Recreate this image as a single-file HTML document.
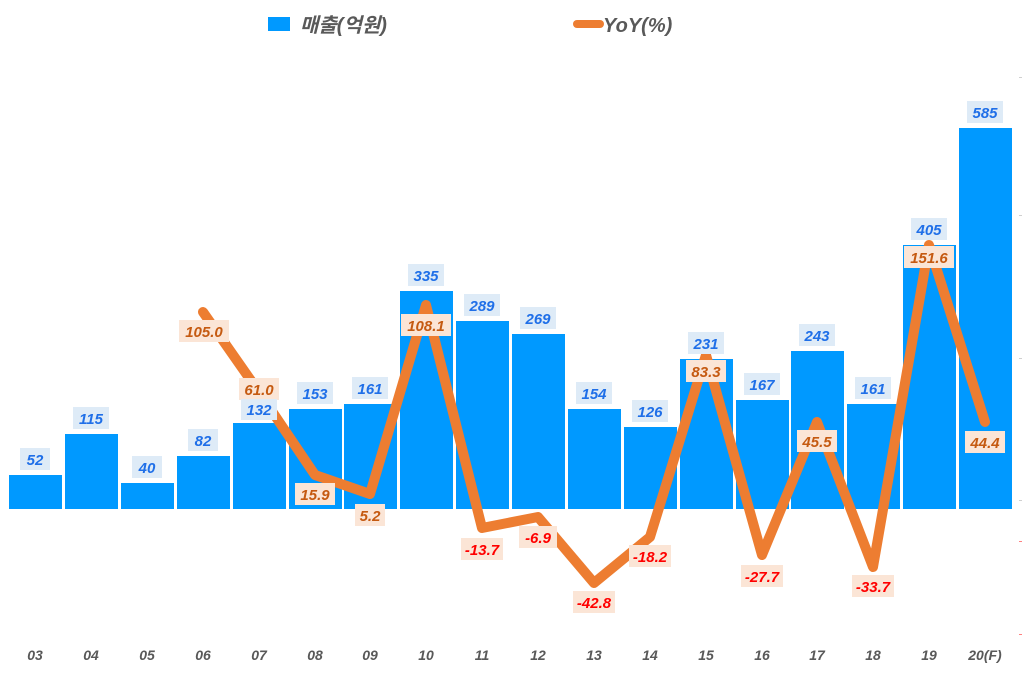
<!DOCTYPE html>
<html><head><meta charset="utf-8"><style>
html,body{margin:0;padding:0;background:#fff;}
svg text{font-family:"Liberation Sans","Noto Sans CJK KR",sans-serif;font-style:italic;font-weight:bold;}
.bl{font-size:15px;fill:#1f6fe8;text-anchor:middle;}
.yl{font-size:15px;fill:#c55a11;text-anchor:middle;}
.yn{font-size:15px;fill:#ff0000;text-anchor:middle;}
.xl{font-size:14px;fill:#595959;text-anchor:middle;}
</style></head><body>
<svg width="1024" height="685" xmlns="http://www.w3.org/2000/svg">
<rect width="1024" height="685" fill="#fff"/>
<rect x="268" y="17" width="22" height="14" fill="#0099ff"/>
<text x="300" y="32" style="font-size:20px" fill="#595959">매출(억원)</text>
<line x1="577" y1="24" x2="600" y2="24" stroke="#ed7d31" stroke-width="8" stroke-linecap="round"/>
<text x="603" y="32" style="font-size:20px" fill="#595959">YoY(%)</text>
<g fill="#d0d0d0">
<rect x="1019" y="77" width="3" height="1"/><rect x="1019" y="215" width="3" height="1"/><rect x="1019" y="358" width="3" height="1"/><rect x="1019" y="500" width="3" height="1"/>
</g>
<rect x="1019" y="541" width="3" height="1" fill="#ff8080"/><rect x="1019" y="634" width="3" height="1" fill="#ff8080"/>
<g fill="#0099ff">
<rect x="9" y="475" width="53" height="34"/>
<rect x="65" y="434" width="53" height="75"/>
<rect x="121" y="483" width="53" height="26"/>
<rect x="177" y="456" width="53" height="53"/>
<rect x="233" y="423" width="53" height="86"/>
<rect x="289" y="409" width="53" height="100"/>
<rect x="344" y="404" width="53" height="105"/>
<rect x="400" y="291" width="53" height="218"/>
<rect x="456" y="321" width="53" height="188"/>
<rect x="512" y="334" width="53" height="175"/>
<rect x="568" y="409" width="53" height="100"/>
<rect x="624" y="427" width="53" height="82"/>
<rect x="680" y="359" width="53" height="150"/>
<rect x="736" y="400" width="53" height="109"/>
<rect x="791" y="351" width="53" height="158"/>
<rect x="847" y="404" width="53" height="105"/>
<rect x="903" y="245" width="53" height="264"/>
<rect x="959" y="128" width="53" height="381"/>
</g>
<polyline fill="none" stroke="#ed7d31" stroke-width="10" stroke-linejoin="round" stroke-linecap="round"
 points="203,312 259,392 315,475 370,494 426,305 482,528 538,517 594,583 650,537 706,355 762,555 817,422 873,567 929,245 985,422"/>
<g fill="#fbe5d6">
<rect x="179" y="320" width="50" height="22"/><rect x="239" y="378" width="40" height="22"/><rect x="295" y="483" width="40" height="22"/><rect x="355" y="504" width="30" height="22"/><rect x="401" y="314" width="50" height="22"/><rect x="461" y="538" width="42" height="22"/><rect x="519" y="526" width="38" height="22"/><rect x="573" y="591" width="42" height="22"/><rect x="629" y="545" width="42" height="22"/><rect x="686" y="360" width="40" height="22"/><rect x="741" y="565" width="42" height="22"/><rect x="797" y="430" width="40" height="22"/><rect x="852" y="575" width="42" height="22"/><rect x="904" y="246" width="50" height="22"/><rect x="965" y="431" width="40" height="22"/>
</g>
<text class="yl" x="204" y="337">105.0</text>
<text class="yl" x="259" y="395">61.0</text>
<text class="yl" x="315" y="500">15.9</text>
<text class="yl" x="370" y="521">5.2</text>
<text class="yl" x="426" y="331">108.1</text>
<text class="yn" x="482" y="555">-13.7</text>
<text class="yn" x="538" y="543">-6.9</text>
<text class="yn" x="594" y="608">-42.8</text>
<text class="yn" x="650" y="562">-18.2</text>
<text class="yl" x="706" y="377">83.3</text>
<text class="yn" x="762" y="582">-27.7</text>
<text class="yl" x="817" y="447">45.5</text>
<text class="yn" x="873" y="592">-33.7</text>
<text class="yl" x="929" y="263">151.6</text>
<text class="yl" x="985" y="448">44.4</text>
<g fill="#deebf7">
<rect x="20" y="448" width="30" height="22"/><rect x="73" y="407" width="36" height="22"/><rect x="132" y="456" width="30" height="22"/><rect x="188" y="429" width="30" height="22"/><rect x="241" y="399" width="36" height="21"/><rect x="297" y="382" width="36" height="22"/><rect x="352" y="377" width="36" height="22"/><rect x="408" y="264" width="36" height="22"/><rect x="464" y="294" width="36" height="22"/><rect x="520" y="307" width="36" height="22"/><rect x="576" y="382" width="36" height="22"/><rect x="632" y="400" width="36" height="22"/><rect x="688" y="332" width="36" height="22"/><rect x="744" y="373" width="36" height="22"/><rect x="799" y="324" width="36" height="22"/><rect x="855" y="377" width="36" height="22"/><rect x="911" y="218" width="36" height="22"/><rect x="967" y="101" width="36" height="22"/>
</g>
<text class="bl" x="35" y="465">52</text><text class="bl" x="91" y="424">115</text><text class="bl" x="147" y="473">40</text><text class="bl" x="203" y="446">82</text><text class="bl" x="259" y="415">132</text><text class="bl" x="315" y="399">153</text><text class="bl" x="370" y="394">161</text><text class="bl" x="426" y="281">335</text><text class="bl" x="482" y="311">289</text><text class="bl" x="538" y="324">269</text><text class="bl" x="594" y="399">154</text><text class="bl" x="650" y="417">126</text><text class="bl" x="706" y="349">231</text><text class="bl" x="762" y="390">167</text><text class="bl" x="817" y="341">243</text><text class="bl" x="873" y="394">161</text><text class="bl" x="929" y="235">405</text><text class="bl" x="985" y="118">585</text>
<text class="xl" x="35" y="660">03</text><text class="xl" x="91" y="660">04</text><text class="xl" x="147" y="660">05</text><text class="xl" x="203" y="660">06</text><text class="xl" x="259" y="660">07</text><text class="xl" x="315" y="660">08</text><text class="xl" x="370" y="660">09</text><text class="xl" x="426" y="660">10</text><text class="xl" x="482" y="660">11</text><text class="xl" x="538" y="660">12</text><text class="xl" x="594" y="660">13</text><text class="xl" x="650" y="660">14</text><text class="xl" x="706" y="660">15</text><text class="xl" x="762" y="660">16</text><text class="xl" x="817" y="660">17</text><text class="xl" x="873" y="660">18</text><text class="xl" x="929" y="660">19</text><text class="xl" x="985" y="660">20(F)</text>
</svg>
</body></html>
